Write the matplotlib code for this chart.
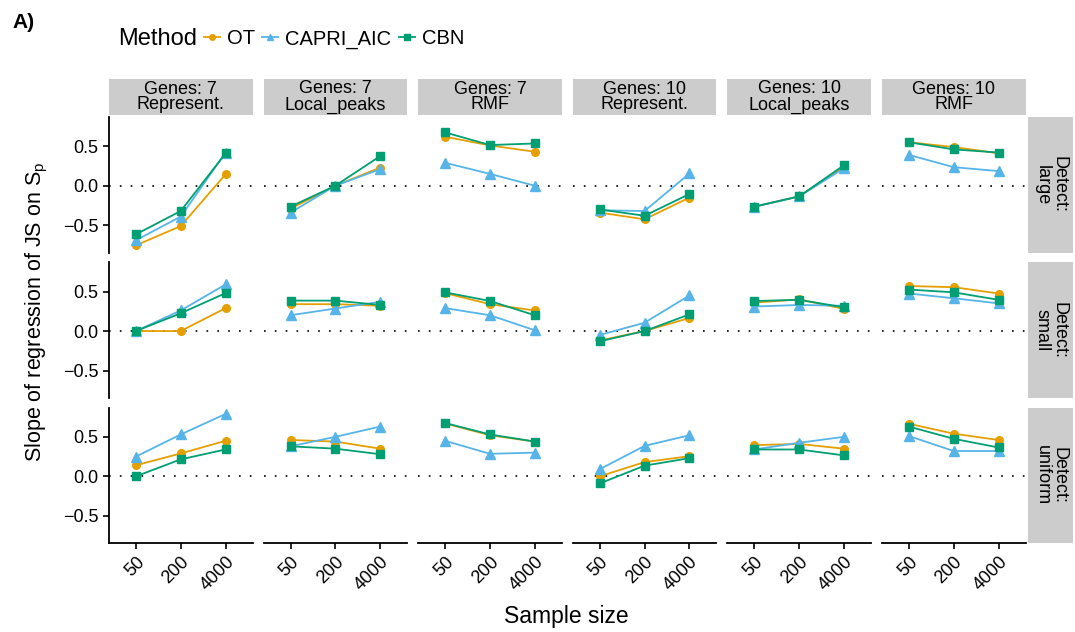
import numpy as np
import matplotlib
matplotlib.use("Agg")
import matplotlib.pyplot as plt
from matplotlib.lines import Line2D
from matplotlib.patches import Rectangle

plt.rcParams['font.family'] = ['Liberation Sans', 'DejaVu Sans']

# categories
sample_sizes = ["50", "200", "4000"]
col_labels = ["Genes: 7\nRepresent.", "Genes: 7\nLocal_peaks", "Genes: 7\nRMF",
              "Genes: 10\nRepresent.", "Genes: 10\nLocal_peaks", "Genes: 10\nRMF"]
row_labels = ["Detect:\nlarge", "Detect:\nsmall", "Detect:\nuniform"]
methods = ["OT", "CAPRI_AIC", "CBN"]

# values, one list per column panel (50, 200, 4000)
ot_large = [[-0.755, -0.51, 0.145], [-0.29, 0.0, 0.23], [0.62, 0.51, 0.43],
            [-0.34, -0.425, -0.15], [-0.265, -0.135, 0.24], [0.55, 0.49, 0.41]]
capri_large = [[-0.69, -0.39, 0.42], [-0.34, 0.0, 0.21], [0.29, 0.15, 0.0],
               [-0.31, -0.32, 0.155], [-0.265, -0.135, 0.22], [0.39, 0.235, 0.185]]
cbn_large = [[-0.615, -0.32, 0.41], [-0.265, 0.0, 0.375], [0.675, 0.515, 0.535],
             [-0.30, -0.38, -0.105], [-0.265, -0.135, 0.26], [0.55, 0.46, 0.42]]

ot_small = [[0.0, 0.0, 0.29], [0.34, 0.34, 0.32], [0.48, 0.34, 0.26],
            [-0.12, 0.0, 0.165], [0.36, 0.40, 0.28], [0.57, 0.555, 0.475]]
capri_small = [[0.0, 0.26, 0.59], [0.2, 0.285, 0.37], [0.29, 0.2, 0.01],
               [-0.05, 0.105, 0.45], [0.31, 0.33, 0.32], [0.475, 0.415, 0.35]]
cbn_small = [[0.0, 0.225, 0.48], [0.385, 0.385, 0.33], [0.49, 0.38, 0.2],
             [-0.13, 0.0, 0.21], [0.38, 0.395, 0.30], [0.525, 0.49, 0.395]]

ot_unif = [[0.14, 0.29, 0.45], [0.46, 0.44, 0.35], [0.67, 0.52, 0.44],
           [0.0, 0.18, 0.255], [0.395, 0.41, 0.35], [0.665, 0.54, 0.46]]
capri_unif = [[0.25, 0.53, 0.79], [0.38, 0.5, 0.63], [0.45, 0.285, 0.3],
              [0.09, 0.385, 0.52], [0.34, 0.425, 0.5], [0.51, 0.32, 0.32]]
cbn_unif = [[0.0, 0.215, 0.34], [0.38, 0.35, 0.28], [0.675, 0.53, 0.44],
            [-0.09, 0.135, 0.23], [0.34, 0.34, 0.265], [0.63, 0.475, 0.365]]

rows = [[ot_large, capri_large, cbn_large],
        [ot_small, capri_small, cbn_small],
        [ot_unif, capri_unif, cbn_unif]]

colors = ["#E69F00", "#56B4E9", "#009E73"]
markers = ["o", "^", "s"]
msizes = [5.5, 6.5, 5.5]

W, H = 1075, 632
fig = plt.figure(figsize=(W / 100, H / 100), dpi=100)

left0, step, pw = 109, 154.6, 143.5
top0, vstep, ph = 117, 145.3, 135.5

x = np.arange(1, 4)
for r in range(3):
    for c in range(6):
        l = left0 + c * step
        t = top0 + r * vstep
        ax = fig.add_axes([l / W, 1 - (t + ph) / H, pw / W, ph / H])
        ax.axhline(0, color="black", lw=1.2, ls=(0, (1, 5.5)), zorder=1)
        for m in range(3):
            ax.plot(x, rows[r][m][c], color=colors[m], marker=markers[m],
                    ms=msizes[m], lw=1.3, zorder=2 + m)
        ax.set_xlim(0.4, 3.6)
        ax.set_ylim(-0.845, 0.87)
        ax.set_yticks([-0.5, 0.0, 0.5])
        ax.set_yticklabels(["\u22120.5", "0.0", "0.5"])
        ax.set_xticks(x)
        ax.set_xticklabels(sample_sizes)
        for s in ["top", "right"]:
            ax.spines[s].set_visible(False)
        ax.spines["left"].set_linewidth(1.3)
        ax.spines["bottom"].set_linewidth(1.3)
        ax.tick_params(length=4, width=1.2, labelsize=13, colors="black")
        if c != 0:
            ax.spines["left"].set_visible(False)
            ax.tick_params(axis="y", left=False, labelleft=False)
        if r != 2:
            ax.spines["bottom"].set_visible(False)
            ax.tick_params(axis="x", bottom=False, labelbottom=False)
        else:
            for lab in ax.get_xticklabels():
                lab.set_rotation(45)
                lab.set_ha("right")
                lab.set_rotation_mode("anchor")

        # top strips
        if r == 0:
            fig.patches.append(Rectangle((l / W, 1 - 115 / H), pw / W, 36 / H,
                                         transform=fig.transFigure,
                                         facecolor="#cccccc", edgecolor="none"))
            fig.text((l + pw / 2) / W, 1 - 97 / H, col_labels[c], ha="center",
                     va="center", fontsize=13, linespacing=0.92)
    # right strips
    t = top0 + r * vstep
    fig.patches.append(Rectangle((1028 / W, 1 - (t + ph) / H), 45 / W, ph / H,
                                 transform=fig.transFigure,
                                 facecolor="#cccccc", edgecolor="none"))
    fig.text(1050.5 / W, 1 - (t + ph / 2) / H, row_labels[r], ha="center",
             va="center", rotation=270, fontsize=13, linespacing=0.95)

# axis titles
fig.text(37 / W, 1 - 312 / H, "Slope of regression of JS on $\\mathregular{S_p}$",
         rotation=90, ha="center", va="center", fontsize=15.5)
fig.text(566 / W, 1 - 616 / H, "Sample size", ha="center", va="center",
         fontsize=16.5)
fig.text(12 / W, 1 - 22 / H, "A)", ha="left", va="center", fontsize=15,
         fontweight="bold")

# legend
fig.text(118 / W, 1 - 39 / H, "Method", ha="left", va="center", fontsize=17)
handles = [Line2D([], [], color=colors[i], marker=markers[i], ms=msizes[i] - 1.5,
                  lw=1.3) for i in range(3)]
fig.legend(handles, methods, loc="center left", bbox_to_anchor=(204 / W, 1 - 39 / H),
           ncol=3, frameon=False, fontsize=14.5, handlelength=0.8,
           handletextpad=0.35, columnspacing=0.35, borderaxespad=0, borderpad=0)

fig.savefig("out.png", dpi=100)
